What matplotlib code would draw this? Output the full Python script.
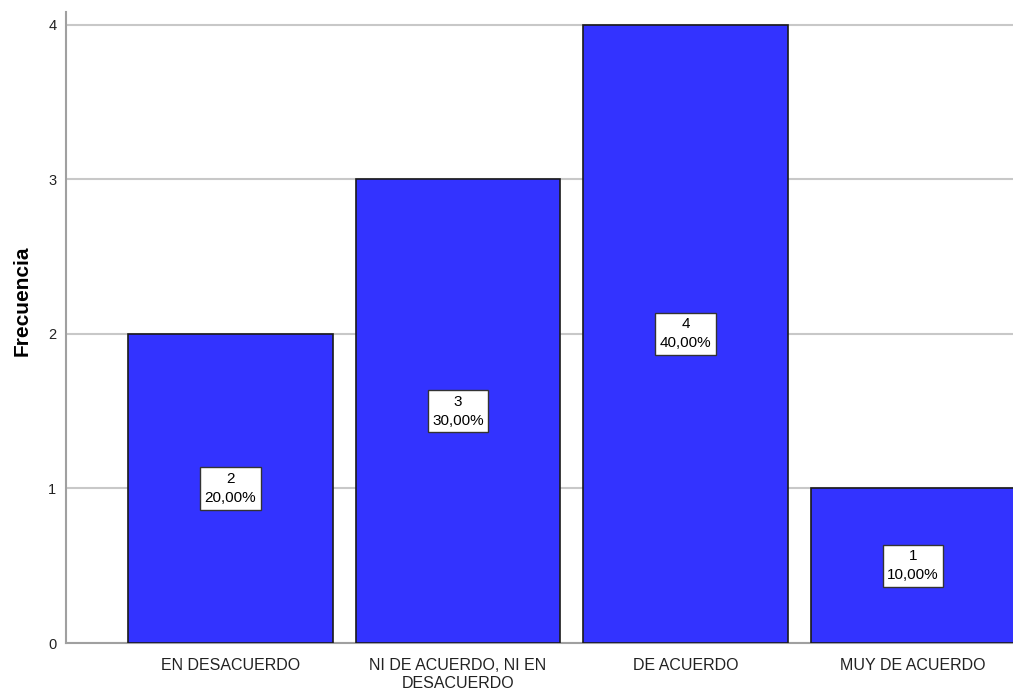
import matplotlib.pyplot as plt
import numpy as np

# frequencies per answer category
categorias = ["EN DESACUERDO", "NI DE ACUERDO, NI EN\nDESACUERDO", "DE ACUERDO", "MUY DE ACUERDO"]
frecuencias = [2, 3, 4, 1]
porcentajes = ["20,00%", "30,00%", "40,00%", "10,00%"]

plt.rcParams['font.family'] = ['Liberation Sans', 'DejaVu Sans']

fig = plt.figure(figsize=(10.13, 6.99), dpi=100)
ax = fig.add_axes([0.0652, 0.0801, 0.9348, 0.9029])

x = np.arange(len(categorias))
ax.bar(x, frecuencias, width=0.9, color="#3333ff", edgecolor="#1a1a1a", linewidth=1.2, zorder=3)

for xi, f, p in zip(x, frecuencias, porcentajes):
    ax.text(xi, f / 2, f"{f}\n{p}", ha="center", va="center", fontsize=11, zorder=4,
            linespacing=1.45,
            bbox=dict(boxstyle="square,pad=0.3", fc="white", ec="#333333", lw=1))

ax.set_xlim(-0.723, 3.44)
ax.set_ylim(0, 4.084)
ax.set_yticks([0, 1, 2, 3, 4])
ax.set_xticks(x)
ax.set_xticklabels(categorias, fontsize=11.5, linespacing=1.2)
ax.tick_params(axis="both", length=0, colors="#222222")
ax.tick_params(axis="y", labelsize=10.5, pad=7)
ax.tick_params(axis="x", pad=11)
ax.yaxis.grid(True, color="#c8c8c8", linewidth=1.5, zorder=0)

for s in ["top", "right"]:
    ax.spines[s].set_visible(False)
for s in ["left", "bottom"]:
    ax.spines[s].set_color("#a0a0a0")
    ax.spines[s].set_linewidth(1.5)

ax.set_ylabel("Frecuencia", fontsize=15, fontweight="bold")
ax.yaxis.set_label_coords(-0.036, 0.542)

plt.savefig("out.png", dpi=100)
